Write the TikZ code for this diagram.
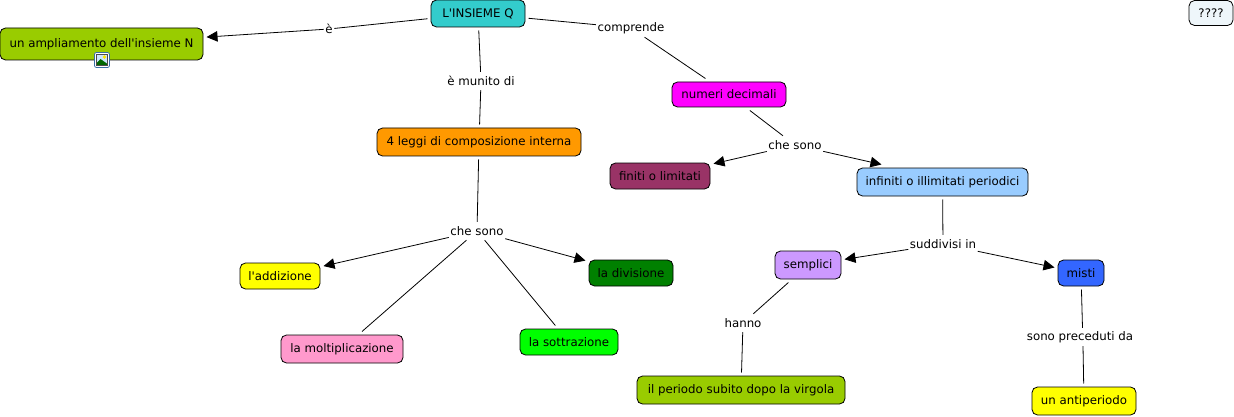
\documentclass[tikz,border=0pt]{standalone}
\usepackage{fontspec}
\setmainfont{DejaVu Sans}
\usetikzlibrary{arrows.meta, positioning}
\definecolor{mapolive}{RGB}{153, 204, 0}
\definecolor{mapteal}{RGB}{51, 204, 204}
\definecolor{mapmagenta}{RGB}{255, 0, 255}
\definecolor{mapplum}{RGB}{153, 51, 102}
\definecolor{maporange}{RGB}{255, 153, 0}
\definecolor{mapsky}{RGB}{153, 204, 255}
\definecolor{maplilac}{RGB}{204, 153, 255}
\definecolor{mapblue}{RGB}{51, 102, 255}
\definecolor{mapyellow}{RGB}{255, 255, 0}
\definecolor{mappink}{RGB}{255, 153, 204}
\definecolor{maplime}{RGB}{0, 255, 0}
\definecolor{mapgreen}{RGB}{0, 128, 0}
\definecolor{mapice}{RGB}{238, 246, 250}
\definecolor{mapframe}{RGB}{58, 110, 165}

\begin{document}
\begin{tikzpicture}[
        x=1pt, y=-1pt,
        box/.style={draw, line width=0.8pt, rounded corners=5.5pt, inner sep=0pt, outer sep=3.5pt, font=\fontsize{11.8}{13}\selectfont},
        linkword/.style={inner sep=1.5pt, minimum height=18pt, font=\fontsize{11.8}{13}\selectfont},
        link/.style={line width=0.8pt},
        arrow/.style={line width=0.8pt, -{Triangle[length=11pt, width=10.5pt]}}
    ]
        \useasboundingbox (0,0) rectangle (1234,417);

        % Concepts
        \node[box, fill=mapteal, minimum width=94pt, minimum height=27pt] (insieme) at (478,13.5) {L\textquotesingle INSIEME Q};
        \node[box, fill=mapolive, minimum width=203pt, minimum height=32pt] (ampliamento) at (101.5,44) {un ampliamento dell\textquotesingle insieme N};
        \node[box, fill=maporange, minimum width=204pt, minimum height=28pt] (leggi) at (479,142) {4 leggi di composizione interna};
        \node[box, fill=mapmagenta, minimum width=114pt, minimum height=25pt] (decimali) at (729,94.5) {numeri decimali};
        \node[box, fill=mapplum, minimum width=100pt, minimum height=26pt] (finiti) at (660,176) {finiti o limitati};
        \node[box, fill=mapsky, minimum width=171pt, minimum height=28pt] (infiniti) at (942.5,182) {infiniti o illimitati periodici};
        \node[box, fill=mapyellow, minimum width=80pt, minimum height=26pt] (addizione) at (280,276) {l\textquotesingle addizione};
        \node[box, fill=mappink, minimum width=122pt, minimum height=28pt] (moltiplicazione) at (342,349) {la moltiplicazione};
        \node[box, fill=maplime, minimum width=98pt, minimum height=26pt] (sottrazione) at (569,342) {la sottrazione};
        \node[box, fill=mapgreen, minimum width=84pt, minimum height=26pt] (divisione) at (631,273) {la divisione};
        \node[box, fill=maplilac, minimum width=66pt, minimum height=28pt] (semplici) at (808,265) {semplici};
        \node[box, fill=mapblue, minimum width=46pt, minimum height=26pt] (misti) at (1081,273) {misti};
        \node[box, fill=mapolive, minimum width=208pt, minimum height=28pt] (periodo) at (741,390) {il periodo subito dopo la virgola};
        \node[box, fill=mapyellow, minimum width=104pt, minimum height=28pt] (antiperiodo) at (1084,401) {un antiperiodo};
        \node[box, fill=mapice, minimum width=44pt, minimum height=25pt] (domande) at (1211,13) {????};

        % Linking words
        \node[linkword] (e) at (329,29) {è};
        \node[linkword] (comprende) at (631,28) {comprende};
        \node[linkword] (munito) at (481,81) {è munito di};
        \node[linkword] (chesono) at (477,231) {che sono};
        \node[linkword] (chesonob) at (795,145) {che sono};
        \node[linkword] (suddivisi) at (943,244) {suddivisi in};
        \node[linkword] (hanno) at (743,323) {hanno};
        \node[linkword] (preceduti) at (1080,337) {sono preceduti da};

        % Arrows
        \draw[link] (insieme) -- (e);
        \draw[arrow] (e) -- (ampliamento);
        \draw[link] (insieme) -- (comprende);
        \draw[link] (comprende) -- (decimali);
        \draw[link] (insieme) -- (munito);
        \draw[link] (munito) -- (leggi);
        \draw[link] (leggi) -- (chesono);
        \draw[arrow] (chesono) -- (addizione);
        \draw[link] (chesono) -- (moltiplicazione);
        \draw[link] (chesono) -- (sottrazione);
        \draw[arrow] (chesono) -- (divisione);
        \draw[link] (decimali) -- (chesonob);
        \draw[arrow] (chesonob) -- (finiti);
        \draw[arrow] (chesonob) -- ([xshift=-61pt]infiniti.north);
        \draw[link] (infiniti) -- (suddivisi);
        \draw[arrow] (suddivisi) -- (semplici);
        \draw[arrow] (suddivisi) -- (misti);
        \draw[link] (semplici) -- (hanno);
        \draw[link] (hanno) -- (periodo);
        \draw[link] (misti) -- ([xshift=2.5pt]preceduti.north);
        \draw[link] ([xshift=3pt]preceduti.south) -- (antiperiodo);

        % Image icon
        \node[draw=mapframe, fill=white, line width=0.8pt, rounded corners=2pt, minimum width=15pt, minimum height=15pt, inner sep=0pt] (icon) at (102,60) {};
        \begin{scope}[shift={(icon.center)}]
            \fill[mapsky!50] (-5.5,-5.5) rectangle (5.5,5.5);
            \fill[mapyellow!80!orange] (2.5,-3) circle (1.8);
            \fill[mapgreen!80!black] (-5.5,5.5) -- (-5.5,3) -- (-1.5,-1) -- (5.5,4) -- (5.5,5.5) -- cycle;
            \draw[black!70, line width=0.5pt] (-5.5,-5.5) rectangle (5.5,5.5);
        \end{scope}
    \end{tikzpicture}
\end{document}
